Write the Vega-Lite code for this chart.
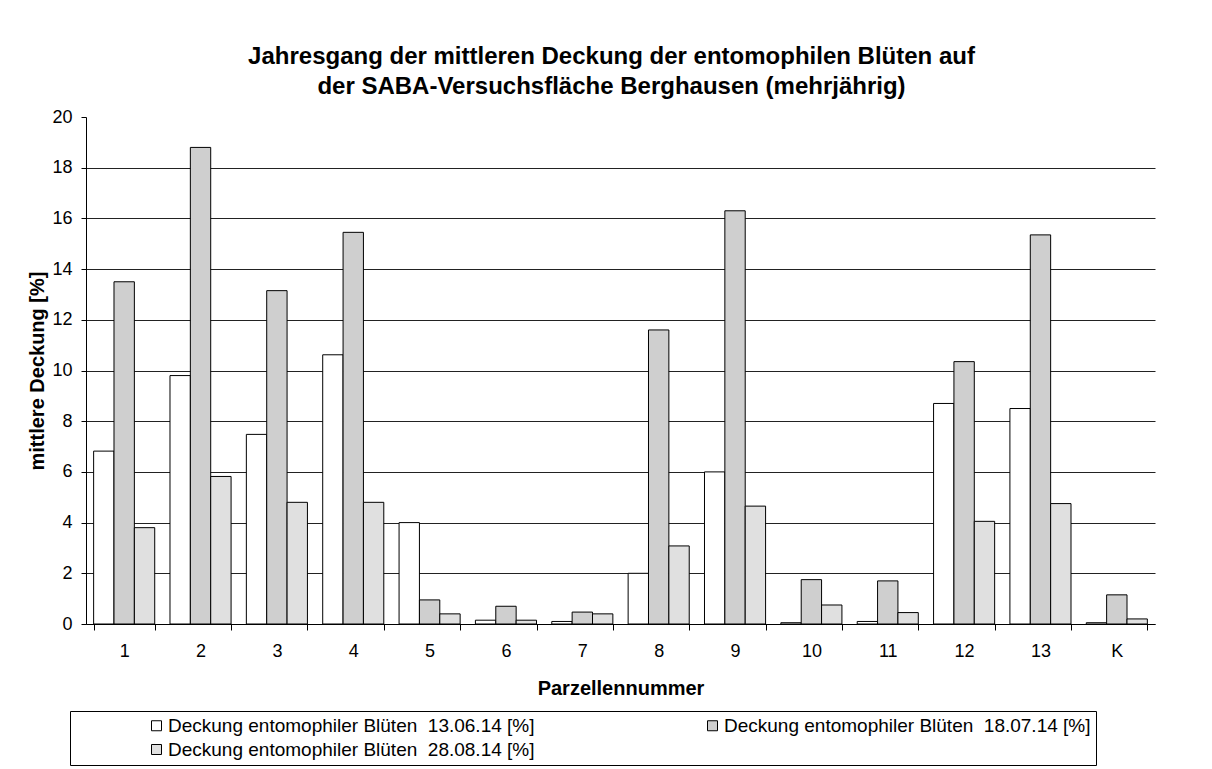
{
  "$schema": "https://vega.github.io/schema/vega-lite/v6.json",
  "autosize": {"type": "none"},
  "width": 1069,
  "height": 507,
  "padding": {"left": 86, "top": 117, "right": 57, "bottom": 145},
  "background": "white",
  "title": {
    "text": ["Jahresgang der mittleren Deckung der entomophilen Blüten auf", "der SABA-Versuchsfläche Berghausen (mehrjährig)"],
    "font": "Liberation Sans",
    "fontSize": 24,
    "fontWeight": "bold",
    "color": "black",
    "anchor": "middle",
    "dx": -9,
    "offset": 9,
    "lineHeight": 30
  },
  "data": {
    "values": [
      {"p": "1", "s": "Deckung entomophiler Blüten \u00a013.06.14 [%]", "v": 6.82},
      {"p": "1", "s": "Deckung entomophiler Blüten \u00a018.07.14 [%]", "v": 13.5},
      {"p": "1", "s": "Deckung entomophiler Blüten \u00a028.08.14 [%]", "v": 3.8},
      {"p": "2", "s": "Deckung entomophiler Blüten \u00a013.06.14 [%]", "v": 9.8},
      {"p": "2", "s": "Deckung entomophiler Blüten \u00a018.07.14 [%]", "v": 18.8},
      {"p": "2", "s": "Deckung entomophiler Blüten \u00a028.08.14 [%]", "v": 5.82},
      {"p": "3", "s": "Deckung entomophiler Blüten \u00a013.06.14 [%]", "v": 7.48},
      {"p": "3", "s": "Deckung entomophiler Blüten \u00a018.07.14 [%]", "v": 13.15},
      {"p": "3", "s": "Deckung entomophiler Blüten \u00a028.08.14 [%]", "v": 4.8},
      {"p": "4", "s": "Deckung entomophiler Blüten \u00a013.06.14 [%]", "v": 10.62},
      {"p": "4", "s": "Deckung entomophiler Blüten \u00a018.07.14 [%]", "v": 15.45},
      {"p": "4", "s": "Deckung entomophiler Blüten \u00a028.08.14 [%]", "v": 4.8},
      {"p": "5", "s": "Deckung entomophiler Blüten \u00a013.06.14 [%]", "v": 4.0},
      {"p": "5", "s": "Deckung entomophiler Blüten \u00a018.07.14 [%]", "v": 0.95},
      {"p": "5", "s": "Deckung entomophiler Blüten \u00a028.08.14 [%]", "v": 0.4},
      {"p": "6", "s": "Deckung entomophiler Blüten \u00a013.06.14 [%]", "v": 0.15},
      {"p": "6", "s": "Deckung entomophiler Blüten \u00a018.07.14 [%]", "v": 0.7},
      {"p": "6", "s": "Deckung entomophiler Blüten \u00a028.08.14 [%]", "v": 0.15},
      {"p": "7", "s": "Deckung entomophiler Blüten \u00a013.06.14 [%]", "v": 0.1},
      {"p": "7", "s": "Deckung entomophiler Blüten \u00a018.07.14 [%]", "v": 0.47},
      {"p": "7", "s": "Deckung entomophiler Blüten \u00a028.08.14 [%]", "v": 0.4},
      {"p": "8", "s": "Deckung entomophiler Blüten \u00a013.06.14 [%]", "v": 2.0},
      {"p": "8", "s": "Deckung entomophiler Blüten \u00a018.07.14 [%]", "v": 11.6},
      {"p": "8", "s": "Deckung entomophiler Blüten \u00a028.08.14 [%]", "v": 3.08},
      {"p": "9", "s": "Deckung entomophiler Blüten \u00a013.06.14 [%]", "v": 6.0},
      {"p": "9", "s": "Deckung entomophiler Blüten \u00a018.07.14 [%]", "v": 16.3},
      {"p": "9", "s": "Deckung entomophiler Blüten \u00a028.08.14 [%]", "v": 4.65},
      {"p": "10", "s": "Deckung entomophiler Blüten \u00a013.06.14 [%]", "v": 0.05},
      {"p": "10", "s": "Deckung entomophiler Blüten \u00a018.07.14 [%]", "v": 1.75},
      {"p": "10", "s": "Deckung entomophiler Blüten \u00a028.08.14 [%]", "v": 0.75},
      {"p": "11", "s": "Deckung entomophiler Blüten \u00a013.06.14 [%]", "v": 0.1},
      {"p": "11", "s": "Deckung entomophiler Blüten \u00a018.07.14 [%]", "v": 1.7},
      {"p": "11", "s": "Deckung entomophiler Blüten \u00a028.08.14 [%]", "v": 0.45},
      {"p": "12", "s": "Deckung entomophiler Blüten \u00a013.06.14 [%]", "v": 8.7},
      {"p": "12", "s": "Deckung entomophiler Blüten \u00a018.07.14 [%]", "v": 10.35},
      {"p": "12", "s": "Deckung entomophiler Blüten \u00a028.08.14 [%]", "v": 4.05},
      {"p": "13", "s": "Deckung entomophiler Blüten \u00a013.06.14 [%]", "v": 8.5},
      {"p": "13", "s": "Deckung entomophiler Blüten \u00a018.07.14 [%]", "v": 15.35},
      {"p": "13", "s": "Deckung entomophiler Blüten \u00a028.08.14 [%]", "v": 4.75},
      {"p": "K", "s": "Deckung entomophiler Blüten \u00a013.06.14 [%]", "v": 0.05},
      {"p": "K", "s": "Deckung entomophiler Blüten \u00a018.07.14 [%]", "v": 1.15},
      {"p": "K", "s": "Deckung entomophiler Blüten \u00a028.08.14 [%]", "v": 0.2}
    ]
  },
  "mark": {"type": "bar", "stroke": "black", "strokeWidth": 1},
  "encoding": {
    "x": {
      "field": "p",
      "type": "nominal",
      "sort": ["1", "2", "3", "4", "5", "6", "7", "8", "9", "10", "11", "12", "13", "K"],
      "scale": {"paddingInner": 0.2, "paddingOuter": 0.1},
      "axis": {
        "title": "Parzellennummer",
        "labelAngle": 0,
        "tickBand": "extent",
        "tickSize": 6,
        "labelPadding": 12,
        "titlePadding": 18
      }
    },
    "xOffset": {
      "field": "s",
      "type": "nominal",
      "scale": {"paddingInner": 0, "paddingOuter": 0}
    },
    "y": {
      "field": "v",
      "type": "quantitative",
      "scale": {"domain": [0, 20], "nice": false},
      "axis": {
        "title": "mittlere Deckung [%]",
        "values": [0, 2, 4, 6, 8, 10, 12, 14, 16, 18, 20],
        "grid": true,
        "gridColor": {"condition": {"test": "datum.value == 20", "value": "transparent"}, "value": "#222222"},
        "tickSize": 5,
        "labelPadding": 9,
        "titlePadding": 4
      }
    },
    "color": {
      "field": "s",
      "type": "nominal",
      "scale": {"range": ["#ffffff", "#cfcfcf", "#e0e0e0"]},
      "legend": {
        "title": null,
        "orient": "none",
        "legendX": -16,
        "legendY": 594,
        "direction": "horizontal",
        "columns": 2,
        "gridAlign": "all",
        "columnPadding": 96,
        "rowPadding": 4,
        "symbolType": "square",
        "symbolSize": 100,
        "symbolStrokeColor": "black",
        "symbolStrokeWidth": 1,
        "symbolOffset": 72,
        "labelFontSize": 19,
        "labelLimit": 500,
        "labelOffset": 2,
        "strokeColor": "black",
        "padding": 5
      }
    }
  },
  "config": {
    "font": "Liberation Sans",
    "view": {"stroke": null},
    "axis": {
      "domainColor": "black",
      "tickColor": "black",
      "labelColor": "black",
      "titleColor": "black",
      "labelFont": "Liberation Sans",
      "titleFont": "Liberation Sans",
      "labelFontSize": 18,
      "titleFontSize": 20,
      "titleFontWeight": "bold",
      "gridWidth": 1,
      "domainWidth": 1
    },
    "legend": {"labelFont": "Liberation Sans", "labelColor": "black"}
  }
}
